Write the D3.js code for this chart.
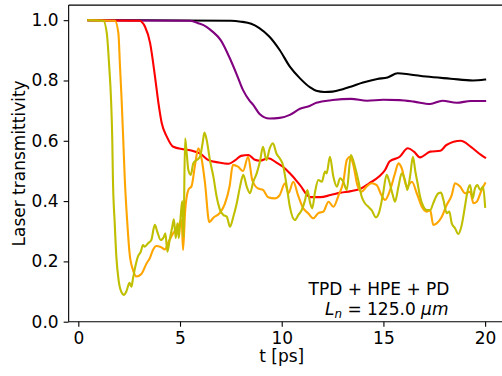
<!DOCTYPE html>
<html>
<head>
<meta charset="utf-8">
<script src="https://cdn.jsdelivr.net/npm/d3@7"></script>
<style>
html,body{margin:0;padding:0;background:#fff;}
svg{display:block;}
text{font-family:"DejaVu Sans",sans-serif;fill:#000;}
</style>
</head>
<body>
<svg id="chart" width="502" height="376"></svg>
<script>
// ---- data (t [ps], transmittivity) ----
const xTicks = [0, 5, 10, 15, 20];
const yTicks = [0.0, 0.2, 0.4, 0.6, 0.8, 1.0];
const xLabel = "t [ps]";
const yLabel = "Laser transmittivity";
const seriesColors = ["#000000", "#800080", "#ff0000", "#ffa500", "#bfbf00"];

const blackData = [[0.5,1.0],[7.5,0.998],[8.0,0.995],[8.5,0.988],[8.9,0.974],[9.4,0.945],[9.9,0.901],[10.4,0.846],[10.9,0.807],[11.4,0.777],[11.7,0.766],[12.1,0.762],[12.5,0.763],[13.0,0.771],[13.5,0.782],[14.0,0.793],[14.7,0.805],[15.2,0.81],[15.7,0.824],[16.3,0.82],[17.1,0.813],[18.3,0.806],[19.4,0.80],[20.0,0.803]];

const purpleData = [[0.5,1.0],[5.5,0.998],[5.9,0.99],[6.3,0.978],[6.6,0.962],[7.0,0.934],[7.46,0.872],[7.8,0.818],[8.1,0.768],[8.4,0.735],[8.6,0.719],[8.9,0.69],[9.4,0.674],[9.9,0.676],[10.4,0.686],[10.9,0.706],[11.4,0.716],[11.7,0.726],[12.5,0.735],[13.4,0.739],[14.2,0.733],[15.0,0.736],[15.8,0.735],[16.5,0.73],[17.3,0.722],[17.9,0.733],[18.6,0.726],[19.3,0.732],[20.0,0.732]];

const redData = [[0.5,1.0],[3.0,0.998],[3.28,0.978],[3.53,0.924],[3.77,0.813],[3.94,0.725],[4.1,0.659],[4.35,0.614],[4.67,0.58],[5.15,0.572],[5.6,0.567],[5.98,0.558],[6.4,0.536],[6.9,0.528],[7.4,0.524],[7.7,0.535],[8.0,0.55],[8.37,0.553],[8.65,0.538],[8.93,0.534],[9.33,0.542],[9.8,0.525],[10.06,0.514],[10.4,0.492],[10.9,0.453],[11.4,0.413],[11.9,0.413],[12.4,0.42],[12.9,0.428],[13.4,0.433],[13.9,0.442],[14.3,0.459],[14.8,0.482],[15.08,0.503],[15.3,0.531],[15.8,0.547],[16.2,0.575],[16.5,0.564],[16.8,0.545],[17.3,0.564],[17.8,0.567],[18.1,0.586],[18.8,0.60],[19.3,0.58],[19.8,0.553],[20.0,0.544]];

const orangeData = [[0.5,1.0],[1.8,0.998],[1.97,0.957],[2.05,0.846],[2.13,0.735],[2.21,0.603],[2.28,0.481],[2.41,0.326],[2.52,0.227],[2.69,0.171],[2.87,0.15],[3.1,0.158],[3.36,0.194],[3.51,0.21],[3.67,0.238],[3.84,0.251],[4.05,0.248],[4.26,0.24],[4.44,0.265],[4.66,0.293],[4.87,0.31],[5.08,0.337],[5.15,0.238],[5.25,0.365],[5.41,0.437],[5.57,0.45],[5.74,0.52],[5.9,0.575],[6.07,0.537],[6.23,0.459],[6.44,0.33],[6.64,0.345],[6.95,0.36],[7.2,0.39],[7.44,0.45],[7.6,0.52],[7.85,0.514],[8.1,0.5],[8.35,0.547],[8.55,0.47],[8.83,0.442],[9.08,0.437],[9.33,0.413],[9.66,0.409],[9.9,0.42],[10.16,0.459],[10.33,0.426],[10.57,0.464],[10.8,0.42],[11.06,0.376],[11.3,0.36],[11.55,0.343],[11.8,0.36],[12.05,0.365],[12.3,0.398],[12.54,0.381],[12.8,0.42],[13.03,0.464],[13.2,0.536],[13.36,0.547],[13.52,0.52],[13.72,0.453],[13.93,0.431],[14.17,0.448],[14.42,0.459],[14.67,0.453],[14.9,0.42],[15.08,0.404],[15.33,0.437],[15.57,0.492],[15.74,0.525],[15.9,0.509],[16.15,0.448],[16.4,0.464],[16.64,0.426],[16.89,0.381],[17.13,0.365],[17.3,0.37],[17.45,0.321],[17.62,0.326],[17.87,0.348],[18.11,0.387],[18.36,0.42],[18.52,0.459],[18.77,0.448],[19.02,0.426],[19.26,0.431],[19.43,0.393],[19.59,0.398],[19.83,0.437],[20.0,0.459]];

const oliveData = [[0.5,1.0],[1.23,0.998],[1.4,0.957],[1.52,0.846],[1.61,0.735],[1.67,0.603],[1.7,0.481],[1.79,0.326],[1.87,0.216],[1.98,0.138],[2.11,0.10],[2.25,0.089],[2.36,0.10],[2.52,0.129],[2.61,0.116],[2.69,0.144],[2.8,0.182],[2.93,0.216],[3.07,0.232],[3.18,0.254],[3.26,0.249],[3.43,0.26],[3.59,0.271],[3.76,0.321],[3.88,0.299],[4.05,0.271],[4.21,0.282],[4.28,0.293],[4.38,0.232],[4.49,0.271],[4.62,0.315],[4.7,0.34],[4.79,0.277],[4.87,0.326],[4.94,0.277],[5.03,0.348],[5.11,0.40],[5.17,0.28],[5.25,0.608],[5.33,0.558],[5.41,0.503],[5.53,0.487],[5.65,0.525],[5.82,0.536],[5.98,0.547],[6.11,0.592],[6.2,0.627],[6.31,0.603],[6.47,0.536],[6.64,0.481],[6.8,0.415],[6.97,0.37],[7.13,0.354],[7.3,0.348],[7.46,0.315],[7.62,0.348],[7.79,0.393],[7.95,0.448],[8.11,0.487],[8.28,0.448],[8.44,0.426],[8.6,0.464],[8.77,0.492],[8.93,0.531],[9.08,0.58],[9.25,0.536],[9.41,0.575],[9.57,0.592],[9.74,0.558],[9.9,0.542],[10.06,0.52],[10.25,0.448],[10.4,0.381],[10.65,0.337],[10.82,0.354],[10.98,0.37],[11.15,0.404],[11.26,0.437],[11.4,0.393],[11.5,0.376],[11.64,0.431],[11.8,0.47],[11.97,0.464],[12.13,0.498],[12.21,0.492],[12.37,0.547],[12.54,0.481],[12.71,0.448],[12.87,0.476],[13.03,0.464],[13.2,0.437],[13.4,0.553],[13.6,0.514],[13.76,0.47],[13.93,0.415],[14.09,0.393],[14.26,0.381],[14.42,0.37],[14.63,0.346],[14.8,0.365],[14.97,0.42],[15.16,0.487],[15.29,0.464],[15.46,0.42],[15.57,0.398],[15.74,0.448],[15.9,0.492],[16.06,0.47],[16.18,0.437],[16.32,0.487],[16.45,0.547],[16.57,0.498],[16.68,0.459],[16.8,0.415],[16.97,0.381],[17.13,0.37],[17.3,0.37],[17.45,0.393],[17.59,0.415],[17.7,0.426],[17.83,0.428],[17.95,0.404],[18.11,0.36],[18.24,0.365],[18.36,0.326],[18.52,0.31],[18.68,0.291],[18.85,0.321],[19.02,0.387],[19.13,0.431],[19.26,0.453],[19.39,0.409],[19.5,0.442],[19.62,0.453],[19.76,0.437],[19.9,0.448],[20.0,0.381]];

const annotationLine1 = "TPD + HPE + PD";

// ---- drawing ----
const svg = d3.select("#chart");
const fontSize = 17;

const x = d3.scaleLinear().domain([-0.475, 20.975]).range([68.65, 504.95]);
const y = d3.scaleLinear().domain([0, 1.05]).range([321.7, 5.1]);

const series = [blackData, purpleData, redData, orangeData, oliveData];

svg.append("clipPath").attr("id","clip").append("rect")
  .attr("x", x.range()[0]).attr("y", y.range()[1])
  .attr("width", x.range()[1]-x.range()[0]).attr("height", y.range()[0]-y.range()[1]);

const line = d3.line().x(d => x(d[0])).y(d => y(d[1])).curve(d3.curveMonotoneX);

const g = svg.append("g").attr("clip-path","url(#clip)");
series.forEach((s, i) => {
  g.append("path").datum(s)
    .attr("d", line)
    .attr("fill","none")
    .attr("stroke", seriesColors[i])
    .attr("stroke-width", 2.1)
    .attr("stroke-linejoin","round")
    .attr("stroke-linecap","square");
});

// axes
const xAxis = d3.axisBottom(x).tickValues(xTicks).tickFormat(d3.format("d")).tickSizeOuter(0).tickSize(5).tickPadding(5);
const yAxis = d3.axisLeft(y).tickValues(yTicks).tickFormat(d3.format(".1f")).tickSizeOuter(0).tickSize(5).tickPadding(5);

const gx = svg.append("g").attr("transform", `translate(0,${y(0)})`).call(xAxis);
const gy = svg.append("g").attr("transform", `translate(${x.range()[0]},0)`).call(yAxis);
[gx, gy].forEach(ax => {
  ax.select(".domain").remove();
  ax.selectAll(".tick line").attr("stroke","#000").attr("stroke-width",1.1);
  ax.selectAll(".tick text").attr("font-size", fontSize).attr("font-family","DejaVu Sans").attr("fill","#000");
});

// spines (left, bottom, top; right lies outside the window)
svg.append("line").attr("x1", x.range()[0]).attr("x2", x.range()[0]).attr("y1", y.range()[1]).attr("y2", y.range()[0])
  .attr("stroke","#000").attr("stroke-width",1.1);
svg.append("line").attr("x1", x.range()[0]).attr("x2", 502).attr("y1", y(0)).attr("y2", y(0))
  .attr("stroke","#000").attr("stroke-width",1.1);
svg.append("line").attr("x1", x.range()[0]).attr("x2", 502).attr("y1", y.range()[1]).attr("y2", y.range()[1])
  .attr("stroke","#000").attr("stroke-width",1.1);

// axis labels
svg.append("text").attr("x", x(10)).attr("y", 362).attr("text-anchor","middle")
  .attr("font-size", fontSize).text(xLabel);
svg.append("text").attr("transform", `translate(25,${(y.range()[0]+y.range()[1])/2}) rotate(-90)`)
  .attr("text-anchor","middle").attr("font-size", fontSize).text(yLabel);

// annotation
svg.append("text").attr("x", 379).attr("y", 295).attr("text-anchor","middle")
  .attr("font-size", fontSize).text(annotationLine1);
const t2 = svg.append("text").attr("x", 448.5).attr("y", 315).attr("text-anchor","end").attr("font-size", fontSize);
t2.append("tspan").attr("font-style","italic").text("L");
t2.append("tspan").attr("font-style","italic").attr("font-size", fontSize*0.7).attr("dy", 3).text("n");
t2.append("tspan").attr("dy", -3).text(" = 125.0 ");
t2.append("tspan").attr("font-style","italic").text("μm");
</script>
</body>
</html>
